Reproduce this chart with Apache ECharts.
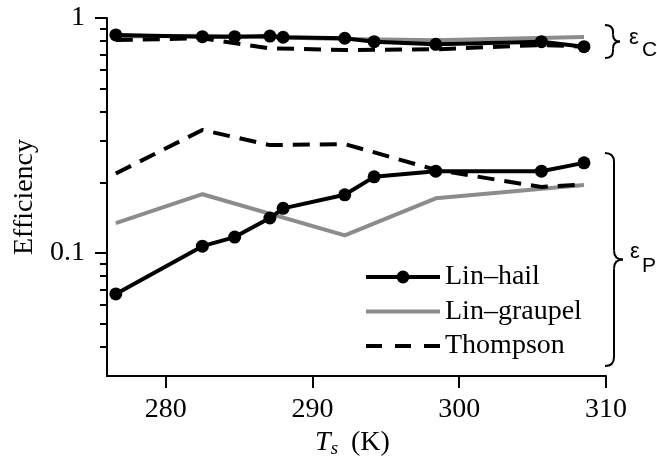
<!DOCTYPE html>
<html lang="en">
<head>
    <meta charset="UTF-8">
    <title>Efficiency vs Ts</title>
    <script src="https://cdn.jsdelivr.net/npm/echarts@6.0.0/dist/echarts.min.js"></script>
    <style>
        html, body { margin: 0; padding: 0; background: #fff; }
        #main { width: 657px; height: 464px; }
    </style>
</head>
<body>
    <div id="main"></div>
    <script>
        // surface temperatures (K) for each scheme
        var tsHail = [276.6, 282.5, 284.7, 287.1, 288.0, 292.2, 294.2, 298.4, 305.6, 308.5];
        var tsGraupel = [276.6, 282.5, 292.2, 298.4, 308.5];
        var tsThompson = [276.6, 282.5, 287.1, 292.2, 298.4, 305.6, 308.5];

        // precipitation efficiency (lower group)
        var hailP = [0.067, 0.107, 0.117, 0.141, 0.155, 0.177, 0.211, 0.223, 0.223, 0.242];
        var graupelP = [0.134, 0.178, 0.119, 0.171, 0.195];
        var thompsonP = [0.218, 0.334, 0.288, 0.291, 0.226, 0.191, 0.196];

        // condensation efficiency (upper group)
        var hailC = [0.847, 0.833, 0.833, 0.838, 0.828, 0.820, 0.793, 0.773, 0.793, 0.755];
        var graupelC = [0.835, 0.840, 0.815, 0.805, 0.830];
        var thompsonC = [0.806, 0.820, 0.743, 0.731, 0.736, 0.768, 0.755];

        var xTicks = [280, 290, 300, 310];
        var yMinorTicks = [0.04, 0.05, 0.06, 0.07, 0.08, 0.09, 0.2, 0.3, 0.4, 0.5, 0.6, 0.7, 0.8, 0.9];

        function pairs(xs, ys) {
            return xs.map(function (x, i) { return [x, ys[i]]; });
        }

        var serif = 'Liberation Serif';
        var sans = 'Liberation Sans';

        var hailStyle = { color: '#000', width: 4 };
        var graupelStyle = { color: '#8c8c8c', width: 4 };
        var thompsonStyle = { color: '#000', width: 4, type: [17, 10] };

        function lineSeries(name, data, lineStyle, withDots, z) {
            return {
                name: name,
                type: 'line',
                data: data,
                yAxisIndex: 0,
                z: z,
                symbol: withDots ? 'circle' : 'none',
                symbolSize: 13,
                showSymbol: withDots,
                itemStyle: { color: lineStyle.color },
                lineStyle: lineStyle,
                silent: true,
                animation: false
            };
        }

        // right curly brace built from curves and lines
        function brace(x0, y0, y1, d, w, r) {
            var ym = (y0 + y1) / 2;
            var xs = x0 + d;
            var st = { stroke: '#000', lineWidth: 2, fill: null };
            function curve(ax, ay, cx, cy, bx, by) {
                return { type: 'bezierCurve', shape: { x1: ax, y1: ay, cpx1: cx, cpy1: cy, x2: bx, y2: by }, style: st };
            }
            function seg(ax, ay, bx, by) {
                return { type: 'line', shape: { x1: ax, y1: ay, x2: bx, y2: by }, style: st };
            }
            return {
                type: 'group',
                children: [
                    curve(x0, y0, xs, y0, xs, y0 + r),
                    seg(xs, y0 + r, xs, ym - r),
                    curve(xs, ym - r, xs, ym, x0 + w, ym),
                    curve(x0 + w, ym, xs, ym, xs, ym + r),
                    seg(xs, ym + r, xs, y1 - r),
                    curve(xs, y1 - r, xs, y1, x0, y1)
                ]
            };
        }

        var chart = echarts.init(document.getElementById('main'));

        var yCommon = {
            type: 'log',
            logBase: 10,
            min: 0.03,
            max: 1,
            position: 'left',
            splitLine: { show: false }
        };

        var noDot = { opacity: 0 };

        var option = {
            animation: false,
            textStyle: { fontFamily: serif, color: '#000' },
            grid: { left: 107, right: 51, top: 18, bottom: 88, containLabel: false },
            legend: {
                orient: 'vertical',
                left: 359,
                top: 258,
                itemWidth: 74,
                itemHeight: 16,
                itemGap: 6.5,
                lineStyle: { width: 4 },
                data: [
                    { name: 'Lin–hail' },
                    { name: 'Lin–graupel', itemStyle: noDot },
                    { name: 'Thompson', itemStyle: noDot, lineStyle: { type: [16, 13], width: 4 } }
                ],
                textStyle: { fontFamily: serif, fontSize: 28, color: '#000' }
            },
            xAxis: {
                type: 'value',
                min: 276,
                max: 310,
                name: '{it|T}{sub|s}{n|(K)}',
                nameLocation: 'middle',
                nameGap: 50,
                nameTextStyle: {
                    fontFamily: serif, fontSize: 28, color: '#000',
                    padding: [0, 8, 0, 0],
                    rich: {
                        it: { fontFamily: serif, fontSize: 28, fontStyle: 'italic', color: '#000' },
                        sub: { fontFamily: serif, fontSize: 19, fontStyle: 'italic', color: '#000', padding: [12, 13, 0, 0] },
                        n: { fontFamily: serif, fontSize: 28, color: '#000' }
                    }
                },
                axisLine: { lineStyle: { color: '#000', width: 2 } },
                axisTick: { show: true, length: 12, lineStyle: { color: '#000', width: 2 }, customValues: xTicks },
                axisLabel: { customValues: xTicks, margin: 20, fontFamily: serif, fontSize: 28, color: '#000' },
                splitLine: { show: false }
            },
            yAxis: [
                Object.assign({}, yCommon, {
                    name: 'Efficiency',
                    nameLocation: 'middle',
                    nameGap: 61,
                    nameTextStyle: { fontFamily: serif, fontSize: 28, color: '#000' },
                    axisLine: { show: true, lineStyle: { color: '#000', width: 2 } },
                    axisTick: { show: true, length: 12, lineStyle: { color: '#000', width: 2 } },
                    axisLabel: {
                        margin: 22, fontFamily: serif, fontSize: 28, color: '#000',
                        showMinLabel: false,
                        formatter: function (v) { return String(+(+v).toPrecision(3)); }
                    }
                }),
                Object.assign({}, yCommon, {
                    axisLine: { show: false },
                    axisTick: { show: true, length: 7, lineStyle: { color: '#000', width: 2 }, customValues: yMinorTicks },
                    axisLabel: { show: false }
                })
            ],
            series: [
                lineSeries('Lin–graupel', pairs(tsGraupel, graupelP), graupelStyle, false, 2),
                lineSeries('Lin–graupel', pairs(tsGraupel, graupelC), graupelStyle, false, 2),
                lineSeries('Lin–hail', pairs(tsHail, hailP), hailStyle, true, 3),
                lineSeries('Lin–hail', pairs(tsHail, hailC), hailStyle, true, 3),
                lineSeries('Thompson', pairs(tsThompson, thompsonP), thompsonStyle, false, 4),
                lineSeries('Thompson', pairs(tsThompson, thompsonC), thompsonStyle, false, 4)
            ],
            graphic: [
                brace(605, 25, 58, 8, 15, 7),
                brace(605, 153, 366, 9, 18, 9),
                { type: 'text', x: 629, y: 38, style: { text: 'ε', font: '22px ' + sans, fill: '#000', verticalAlign: 'middle' } },
                { type: 'text', x: 642, y: 50, style: { text: 'C', font: '21px ' + sans, fill: '#000', verticalAlign: 'middle' } },
                { type: 'text', x: 630, y: 252, style: { text: 'ε', font: '22px ' + sans, fill: '#000', verticalAlign: 'middle' } },
                { type: 'text', x: 642, y: 266, style: { text: 'P', font: '21px ' + sans, fill: '#000', verticalAlign: 'middle' } }
            ]
        };

        chart.setOption(option);
    </script>
</body>
</html>
